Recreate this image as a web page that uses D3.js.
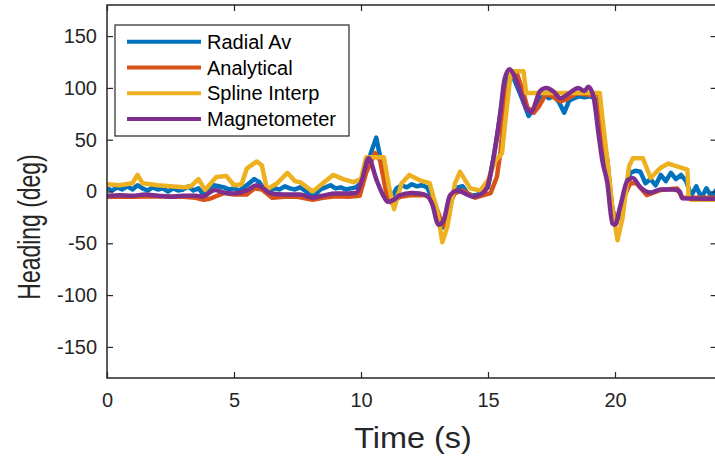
<!DOCTYPE html>
<html>
<head>
<meta charset="utf-8">
<script src="https://cdn.jsdelivr.net/npm/d3@7"></script>
<style>
html,body{margin:0;padding:0;background:#fff;}
svg{display:block;font-family:"Liberation Sans",Arial,Helvetica,sans-serif;}
</style>
</head>
<body>
<div id="chart"></div>
<script>
// ---- data ----
const seriesNames = ["Radial Av", "Analytical", "Spline Interp", "Magnetometer"];
const seriesColors = ["#0072BD", "#D95319", "#EDB120", "#7E2F8E"];
const xTicks = [0, 5, 10, 15, 20];
const yTicks = [-150, -100, -50, 0, 50, 100, 150];

// Radial Av sampled every 0.2 s
const radialT = d3.range(0, 121).map(i => +(i * 0.2).toFixed(1));
const radialV = [3,1,4,2,5,2,6,3,1,4, 2,3,0,3,1,2,5,1,3,-3,
  3,6,5,4,2,3,1,4,8,12, 9,2,1,3,2,5,3,2,4,1,
  -4,-3,2,4,6,3,4,2,3,4, 8,22,38,52,28,2,-6,3,6,4,
  7,5,6,4,-6,-25,-35,-26,-5,4, 5,-2,-4,-3,2,4,30,60,95,112,
  110,98,86,73,80,90,93,90,92,86, 76,88,90,92,91,92,90,70,35,-5,
  -28,-25,0,18,20,19,8,12,6,16, 10,18,12,16,10,-4,5,-6,3,-5, 2];

const analyticalT = [0,1,2,3,3.5,3.8,4.05,4.6,5,5.5,5.8,6.1,6.5,7,7.5,8.1,8.5,9,9.5,9.95,10.2,10.55,10.75,11,11.2,11.55,12,12.5,12.85,13.2,13.35,13.5,13.7,14,14.5,15.1,15.35,15.5,15.65,15.95,16.15,16.4,16.55,16.8,17,17.3,17.85,18.1,18.5,19,19.35,19.5,19.7,19.9,20.05,20.3,20.6,20.85,21.25,21.8,22.45,22.65,24];
const analyticalV = [-5,-5,-4.5,-5,-6,-8,-7,-1.5,-3,-3,3,2,-6,-5,-5,-8,-6,-4.5,-5,-4,18,37,30,-2,-11,-5,-3.5,-3.5,-8,-31,-34,-11,-1.5,1,-6,-1.5,14,40,89,115,113,95,81,76,82,95,87,89,95,93,95,53,30,-18,-31,-8,8,8,-3.5,1.5,3,-6,-6];

const splineT = [0,0.5,1,1.2,1.4,2,2.5,3,3.3,3.6,3.86,4.3,4.7,5,5.3,5.5,5.9,6.1,6.3,6.7,7.1,7.4,7.6,8.1,8.5,8.9,9.3,9.7,10,10.2,10.9,11.1,11.3,11.6,11.9,12.3,12.7,13,13.2,13.4,13.7,13.9,14.3,14.7,15,15.3,15.55,15.7,15.9,16.4,16.5,19.4,19.5,19.7,19.9,20.1,20.3,20.55,20.7,21.1,21.4,21.8,22.1,22.6,22.85,22.9,23,24];
const splineV = [7,6,8,16,8,6,5,4,5,12,1.5,14,15,6,7,22,29,25,2,8,18,10,9,0,8,16,12,9,12,33,33,5,-17,8,16,11,8,-18,-49,-34,8,19,3,1,11,30,37,72,116,116,95,95,72,30,-18,-47,-25,24,32,32,13,23,27,23,21,-6,-8,-8];

const magT = [0,0.5,1,1.5,2,2.5,3,3.5,3.75,4.25,4.6,5,5.5,5.9,6.1,6.4,7,7.6,8.1,8.5,9,9.5,9.8,10.05,10.3,10.6,10.9,11.05,11.3,11.5,12,12.3,12.6,12.8,13.05,13.25,13.5,13.8,14.1,14.4,14.7,14.95,15.2,15.5,15.65,15.85,16.05,16.3,16.5,16.7,17.05,17.3,17.6,17.85,18.2,18.55,18.8,18.95,19.15,19.35,19.5,19.7,19.9,20,20.2,20.5,20.7,21,21.4,21.8,22.3,22.55,22.65,24];
const magV = [-4,-3.5,-4,-3,-4,-5,-4,-4,-5,1.5,-1,-2,1,6,4,-1.5,-3,-3,-6,-4,-2,-2,-1.5,12,32,12,-5,-10,-8,-4,-1.5,-2,-4,-12,-32,-28,-4,1,-2,-5,-3,3,30,79,108,118,111,95,81,77,97,100,96,90,95,100,97,101,92,56,30,8,-31,-32,-15,11,13,4,-1,2,2,0,-6.5,-7];

// ---- layout ----
const W = 715, H = 461;
const m = {left: 107, top: 5};
const plotW = 609.6, plotH = 373;
const axisColor = "#262626";

const svg = d3.select("#chart").append("svg").attr("width", W).attr("height", H);

const x = d3.scaleLinear().domain([0, 24]).range([m.left, m.left + plotW]);
const y = d3.scaleLinear().domain([-180, 180]).range([m.top + plotH, m.top]);

svg.append("defs").append("clipPath").attr("id", "clip")
  .append("rect").attr("x", m.left).attr("y", m.top).attr("width", plotW).attr("height", plotH);

const data = [
  radialT.map((t, i) => [t, radialV[i]]),
  analyticalT.map((t, i) => [t, analyticalV[i]]),
  splineT.map((t, i) => [t, splineV[i]]),
  magT.map((t, i) => [t, magV[i]])
];

const line = d3.line().x(d => x(d[0])).y(d => y(d[1]));
const curves = [d3.curveLinear, d3.curveLinear, d3.curveLinear, d3.curveMonotoneX];

const gLines = svg.append("g").attr("clip-path", "url(#clip)");
data.forEach((s, i) => {
  gLines.append("path")
    .datum(s)
    .attr("fill", "none")
    .attr("stroke", seriesColors[i])
    .attr("stroke-width", 4.5)
    .attr("stroke-linejoin", "round")
    .attr("d", line.curve(curves[i]));
});

// axes (box with inward ticks)
const tickLen = 6;
const gAx = svg.append("g").attr("stroke", axisColor).attr("stroke-width", 1.5).attr("fill", "none");
gAx.append("rect").attr("x", m.left).attr("y", m.top).attr("width", plotW).attr("height", plotH);

const fmt = d => String(d);
const xAxB = d3.axisBottom(x).tickValues(xTicks).tickFormat(fmt).tickSizeInner(-tickLen).tickSizeOuter(0).tickPadding(15);
const xAxT = d3.axisTop(x).tickValues(xTicks).tickSizeInner(-tickLen).tickSizeOuter(0).tickFormat("");
const yAxL = d3.axisLeft(y).tickValues(yTicks).tickFormat(fmt).tickSizeInner(-tickLen).tickSizeOuter(0).tickPadding(10);
const yAxR = d3.axisRight(y).tickValues(yTicks).tickSizeInner(-tickLen).tickSizeOuter(0).tickFormat("");

function styleAxis(g) {
  g.select(".domain").remove();
  g.selectAll(".tick line").attr("stroke", axisColor).attr("stroke-width", 1.2);
  g.selectAll(".tick text").attr("fill", axisColor).style("font-size", "20px")
    .style("font-family", "'Liberation Sans', Arial, sans-serif");
}
svg.append("g").attr("transform", `translate(0,${m.top + plotH})`).call(xAxB).call(styleAxis);
svg.append("g").attr("transform", `translate(0,${m.top})`).call(xAxT).call(styleAxis);
svg.append("g").attr("transform", `translate(${m.left},0)`).call(yAxL).call(styleAxis);
svg.append("g").attr("transform", `translate(${m.left + plotW},0)`).call(yAxR).call(styleAxis);

// axis labels
svg.append("text").attr("transform", "translate(413,448) scale(1.08,1)").attr("text-anchor", "middle")
  .attr("fill", axisColor).style("font-size", "30px").text("Time (s)");
svg.append("text").attr("transform", "translate(40,227) rotate(-90) scale(0.74,1)")
  .attr("text-anchor", "middle").attr("fill", axisColor).style("font-size", "31px").text("Heading (deg)");

// legend
const lg = svg.append("g");
lg.append("rect").attr("x", 115).attr("y", 25).attr("width", 234).attr("height", 111)
  .attr("fill", "#fff").attr("stroke", axisColor).attr("stroke-width", 1.2);
seriesNames.forEach((name, i) => {
  const yy = 41.7 + i * 25.8;
  lg.append("line").attr("x1", 127).attr("x2", 201).attr("y1", yy).attr("y2", yy)
    .attr("stroke", seriesColors[i]).attr("stroke-width", 4);
  lg.append("text").attr("x", 207).attr("y", yy + 7).attr("fill", "#000")
    .style("font-size", "20px").text(name);
});
</script>
</body>
</html>
